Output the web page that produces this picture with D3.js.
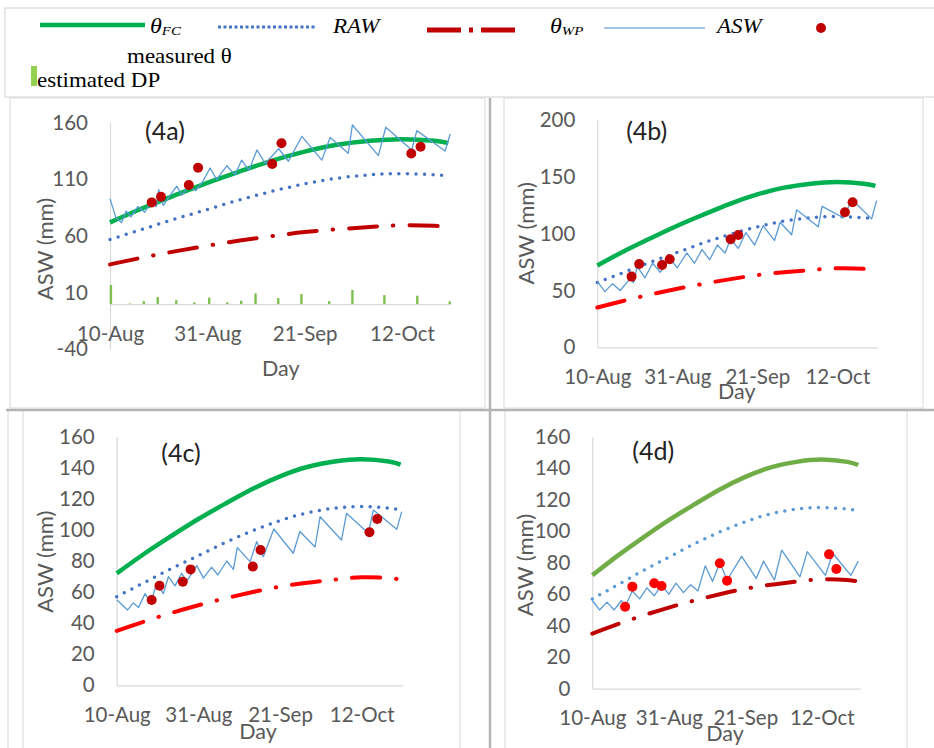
<!DOCTYPE html>
<html>
<head>
<meta charset="utf-8">
<script src="https://cdn.jsdelivr.net/npm/d3@7"></script>
<style>
  html, body { margin: 0; padding: 0; background: #fff; }
  svg { display: block; }
</style>
</head>
<body>
<svg id="chart" width="934" height="748"></svg>
<script>
// ---- data -------------------------------------------------------------
// day offsets counted from 10 August
const dateTickDays = [0, 21, 42, 63];
const dateTickLabels = ["10-Aug", "31-Aug", "21-Sep", "12-Oct"];

// reference soil-water lines (mm), shared by all four plots
const curveDays = [0, 7, 14, 21, 28, 35, 42, 49, 56, 63, 70, 73];
const thetaFC   = [72, 84.5, 96, 107, 117, 126.5, 134.5, 140.5, 144, 145.5, 144, 142];
const rawLimit  = [57, 66, 75, 83.5, 92, 99.5, 106, 111, 114, 115, 114, 113];
const thetaWP   = [35, 41, 46.5, 51.5, 56, 60, 63.5, 66, 68, 69.5, 69, 68];

// measured soil water (mm)
const measuredDays = [9, 11, 17, 19, 35, 37, 65, 67];
const measuredA = [89.7, 94.7, 105, 120.3, 123.5, 141.8, 132.9, 138.8];
const measuredB = [62.2, 73.3, 72.4, 77.4, 95, 98.8, 118.8, 127.6];
const measuredC = [54.9, 64.1, 66.7, 74.6, 76.4, 87.1, 98.5, 107];
const measuredD = [52, 64.8, 66.9, 65.2, 79.6, 68.6, 85.3, 76];

// simulated available soil water (mm)
const aswDaysA = [0, 1.3, 2.5, 3.5, 4.5, 6, 7.5, 9, 10, 10.5, 11.5, 13, 14.4, 15.5, 17, 18.5, 20, 21.6, 23, 25.2, 27, 28.4, 30, 31.7, 33.5, 36.4, 38.5, 41.4, 45.7, 47.5, 51.4, 52.3, 57.9, 59.5, 65.1, 66.2, 72.3, 73.4];
const aswA     = [93, 76, 72, 82, 77, 86, 81, 92, 86, 101, 87, 96, 104, 96, 104, 100, 108, 120, 110, 122, 114, 127, 118, 136, 124, 137, 126, 148, 127, 147, 133, 158, 131, 156, 136, 153, 135, 150];

const aswDaysB = [0, 2, 4, 6, 8.5, 9.5, 10.5, 12.5, 14.5, 16.5, 19, 21, 23.5, 25.5, 27.5, 29.5, 31.5, 33.5, 35, 37, 39, 41.3, 43.5, 46.5, 48, 51, 52.3, 58, 59, 64.6, 66.8, 72, 73.3];
const aswB     = [58, 49, 56, 50, 60, 57, 71, 61, 74, 66, 78, 70, 83, 74, 86, 77, 90, 83, 95, 87, 101, 90, 107, 94, 110, 99, 121, 106, 124, 114, 130, 113, 129];

const aswDaysC = [0, 2.8, 4.3, 5.6, 7.3, 8.7, 10.3, 12, 13.3, 15, 16.7, 18, 20.6, 22.3, 24.4, 26, 28.3, 30, 31, 34.3, 36, 37.7, 40.4, 45.4, 47.1, 51, 52.3, 57.8, 59.1, 64.7, 66, 72, 73.3];
const aswC     = [55, 48.5, 53, 50, 59, 53, 65.6, 59, 70, 64, 72, 67, 77, 69, 76, 71, 80, 74.6, 88.6, 79.6, 92.5, 82.8, 100.6, 85, 99, 89, 108.5, 93.5, 110.7, 97.8, 112.8, 100.4, 111.8];

const aswDaysD = [0, 2, 4, 6, 8, 9, 11, 13, 15, 17, 19, 21, 23, 25, 27, 29, 31, 33, 35, 37, 41, 45, 47, 50, 52, 57, 59, 64, 66, 71, 73];
const aswD     = [56, 50, 55, 50, 56, 52, 62, 57, 64, 59, 66, 60, 67, 61, 66, 62, 78, 68, 80, 69, 84, 70, 81, 69, 88, 71, 87, 72, 86, 72, 81];

// estimated deep percolation (mm), plot 4a only
const dpDays = [0.2, 4.3, 7.3, 10.3, 14.3, 18.2, 21.4, 25.3, 28.3, 31.4, 36.3, 41.3, 47.3, 52.3, 59.2, 66.3, 73.3];
const dpVals = [16.8, 0.5, 2.6, 6.2, 3.5, 1.5, 5.6, 1.5, 2.9, 9.4, 5.3, 8.8, 2.6, 12.4, 7.9, 7.4, 2.4];

// ---- drawing ----------------------------------------------------------
const svg = d3.select("#chart");
const tickFont = "Lato, 'Open Sans', sans-serif";
const serif = "'Liberation Serif', 'DejaVu Serif', serif";

// frames around the legend and the four plots
const frame = svg.append("g").attr("fill", "none");
frame.append("rect").attr("x", 5).attr("y", 8).attr("width", 940).attr("height", 89)
  .attr("stroke", "#d0d0d0");
[[10, 98, 485, 408], [504, 98, 923, 408]].forEach(([x0, y0, x1, y1]) => {
  frame.append("rect").attr("x", x0).attr("y", y0).attr("width", x1 - x0).attr("height", y1 - y0)
    .attr("stroke", "#d9d9d9");
});
[[8, 410, 8, 748], [23, 410, 23, 748], [460, 410, 460, 748], [505, 410, 505, 748], [907, 410, 907, 748]]
  .forEach(([x1, y1, x2, y2]) => {
    frame.append("line").attr("x1", x1).attr("y1", y1).attr("x2", x2).attr("y2", y2)
      .attr("stroke", "#d9d9d9");
  });
frame.append("line").attr("x1", 490).attr("y1", 98).attr("x2", 490).attr("y2", 748)
  .attr("stroke", "#b4b4b4").attr("stroke-width", 2.5);
frame.append("line").attr("x1", 6).attr("y1", 410).attr("x2", 934).attr("y2", 410)
  .attr("stroke", "#b4b4b4").attr("stroke-width", 2.5);

// legend
const legend = svg.append("g");
legend.append("line").attr("x1", 40).attr("x2", 145).attr("y1", 25).attr("y2", 25)
  .attr("stroke", "#00b050").attr("stroke-width", 4.5);
legend.append("line").attr("x1", 218).attr("x2", 315).attr("y1", 27).attr("y2", 27)
  .attr("stroke", "#4472c4").attr("stroke-width", 3).attr("stroke-dasharray", "3,2.5");
legend.append("line").attr("x1", 427).attr("x2", 521).attr("y1", 30).attr("y2", 30)
  .attr("stroke", "#c00000").attr("stroke-width", 5).attr("stroke-dasharray", "34,8,4,8");
legend.append("line").attr("x1", 604).attr("x2", 705).attr("y1", 28).attr("y2", 28)
  .attr("stroke", "#86b2e0").attr("stroke-width", 1.5);
legend.append("circle").attr("cx", 821).attr("cy", 28).attr("r", 5).attr("fill", "#c00000");
legend.append("rect").attr("x", 31).attr("y", 66).attr("width", 6).attr("height", 20).attr("fill", "#92d050");

function legendText(x, y, parts) {
  const t = legend.append("text")
    .attr("transform", `translate(${x},${y}) scale(1.15,1)`)
    .attr("font-family", serif).attr("fill", "#000");
  parts.forEach(p => {
    const s = t.append("tspan").text(p.text)
      .attr("font-size", p.size || 20)
      .attr("font-style", p.italic ? "italic" : "normal");
    if (p.dy) s.attr("dy", p.dy);
  });
}
legendText(150, 33, [{text: "θ", italic: true, size: 21}, {text: "FC", italic: true, size: 13, dy: 2}]);
legendText(333, 33, [{text: "RAW", italic: true, size: 20}]);
legendText(550, 33, [{text: "θ", italic: true, size: 21}, {text: "WP", italic: true, size: 13, dy: 2}]);
legendText(717, 33, [{text: "ASW", italic: true, size: 20}]);
legendText(127, 63, [{text: "measured θ", size: 20}]);
legendText(37, 87, [{text: "estimated DP", size: 20}]);

// one plot per irrigation treatment
const panels = [
  { label: "(4a)", x0: 110, ppd: 4.635, yTop: 122.7, yBot: 349.4, domain: [-40, 160],
    ticks: [-40, 10, 60, 110, 160], aswDays: aswDaysA, asw: aswA, measured: measuredA,
    fc: "#00b050", raw: "#4472c4", wp: "#c00000", dot: "#c00000", dp: true,
    labelPos: [165, 131.7], dayPos: [280.7, 368.3], yTitlePos: [45, 249] },
  { label: "(4b)", x0: 597.3, ppd: 3.81, yTop: 120, yBot: 347.3, domain: [0, 200],
    ticks: [0, 50, 100, 150, 200], aswDays: aswDaysB, asw: aswB, measured: measuredB,
    fc: "#00b050", raw: "#4472c4", wp: "#ff0000", dot: "#c00000", dp: false,
    labelPos: [646.7, 131.7], dayPos: [736.7, 391.7], yTitlePos: [526.7, 233.3] },
  { label: "(4c)", x0: 116.7, ppd: 3.889, yTop: 436.7, yBot: 685.3, domain: [0, 160],
    ticks: d3.range(0, 161, 20), aswDays: aswDaysC, asw: aswC, measured: measuredC,
    fc: "#00b050", raw: "#4472c4", wp: "#ff0000", dot: "#c00000", dp: false,
    labelPos: [181, 453.3], dayPos: [258, 731.7], yTitlePos: [45, 561.7] },
  { label: "(4d)", x0: 592.3, ppd: 3.643, yTop: 436.7, yBot: 688.7, domain: [0, 160],
    ticks: d3.range(0, 161, 20), aswDays: aswDaysD, asw: aswD, measured: measuredD,
    fc: "#70ad47", raw: "#5b9bd5", wp: "#c00000", dot: "#ff0000", dp: false,
    labelPos: [653.3, 451.7], dayPos: [725, 733.3], yTitlePos: [525, 565] }
];

const dayMax = 73.5;

panels.forEach(p => {
  const g = svg.append("g");
  const x = d3.scaleLinear().domain([0, dayMax]).range([p.x0, p.x0 + dayMax * p.ppd]);
  const y = d3.scaleLinear().domain(p.domain).range([p.yBot, p.yTop]);

  // axes
  const yAxis = g.append("g").attr("transform", `translate(${p.x0},0)`)
    .call(d3.axisLeft(y).tickValues(p.ticks).tickSize(0).tickSizeOuter(0).tickPadding(22)
      .tickFormat(d => String(d)));
  const xAxis = g.append("g").attr("transform", `translate(0,${y(0)})`)
    .call(d3.axisBottom(x).tickValues(dateTickDays).tickSize(0).tickSizeOuter(0).tickPadding(22)
      .tickFormat((d, i) => dateTickLabels[i]));
  [yAxis, xAxis].forEach(a => {
    a.select(".domain").attr("stroke", "#d9d9d9").attr("stroke-width", 1.2);
    a.selectAll("text").attr("font-family", tickFont).attr("font-size", 20.5).attr("fill", "#595959");
  });

  // deep percolation bars
  if (p.dp) {
    g.append("g").selectAll("rect").data(dpDays).join("rect")
      .attr("x", (d) => x(d) - 1.2)
      .attr("width", 2.4)
      .attr("y", (d, i) => y(dpVals[i]))
      .attr("height", (d, i) => y(0) - y(dpVals[i]))
      .attr("fill", "#80c050");
  }

  const smooth = d3.line().x(d => x(d[0])).y(d => y(d[1])).curve(d3.curveNatural);
  const zip = (xs, ys) => xs.map((v, i) => [v, ys[i]]);

  g.append("path").attr("d", smooth(zip(curveDays, thetaWP)))
    .attr("fill", "none").attr("stroke", p.wp).attr("stroke-width", 4)
    .attr("stroke-linecap", "round").attr("stroke-dasharray", "28,16,0.5,16");

  g.append("path").attr("d", smooth(zip(curveDays, rawLimit)))
    .attr("fill", "none").attr("stroke", p.raw).attr("stroke-width", 3.5)
    .attr("stroke-linecap", "round").attr("stroke-dasharray", "0,8.5");

  g.append("path").attr("d", smooth(zip(curveDays, thetaFC)))
    .attr("fill", "none").attr("stroke", p.fc).attr("stroke-width", 4.5)
    .attr("stroke-linecap", "butt");

  const straight = d3.line().x(d => x(d[0])).y(d => y(d[1]));
  g.append("path").attr("d", straight(zip(p.aswDays, p.asw)))
    .attr("fill", "none").attr("stroke", "#5b9bd5").attr("stroke-width", 1.3)
    .attr("stroke-linejoin", "round");

  g.append("g").selectAll("circle").data(zip(measuredDays, p.measured)).join("circle")
    .attr("cx", d => x(d[0])).attr("cy", d => y(d[1])).attr("r", 5)
    .attr("fill", p.dot);

  // titles
  g.append("text").text(p.label)
    .attr("x", p.labelPos[0]).attr("y", p.labelPos[1]).attr("dy", "0.35em")
    .attr("text-anchor", "middle").attr("font-family", tickFont).attr("font-size", 25)
    .attr("fill", "#222");
  g.append("text").text("Day")
    .attr("x", p.dayPos[0]).attr("y", p.dayPos[1]).attr("dy", "0.35em")
    .attr("text-anchor", "middle").attr("font-family", tickFont).attr("font-size", 21.5)
    .attr("fill", "#595959");
  g.append("text").text("ASW (mm)")
    .attr("transform", `translate(${p.yTitlePos[0]},${p.yTitlePos[1]}) rotate(-90)`)
    .attr("dy", "0.35em")
    .attr("text-anchor", "middle").attr("font-family", tickFont).attr("font-size", 22)
    .attr("fill", "#595959");
});
</script>
</body>
</html>
